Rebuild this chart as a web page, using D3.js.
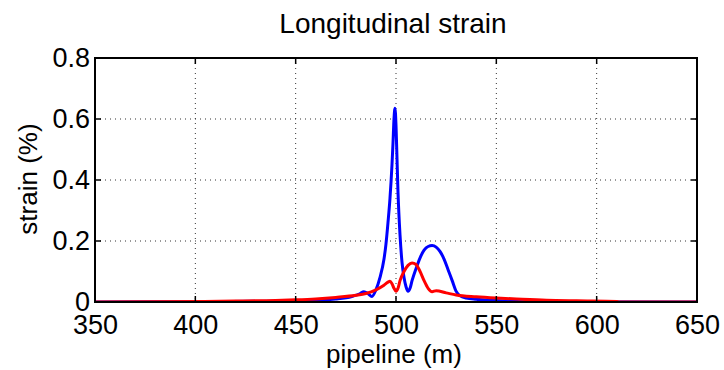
<!DOCTYPE html>
<html><head><meta charset="utf-8">
<script src="https://cdn.jsdelivr.net/npm/d3@7"></script>
<style>body{margin:0;background:#fff;} text{font-family:"Liberation Sans",Arial,sans-serif;}</style>
</head><body>
<svg id="c" width="724" height="370"></svg>
<script>
const title = "Longitudinal strain";
const xLabel = "pipeline (m)";
const yLabel = "strain (%)";
const xTicks = [350, 400, 450, 500, 550, 600, 650];
const yTicks = [0, 0.2, 0.4, 0.6, 0.8];
const yTickLabels = ["0", "0.2", "0.4", "0.6", "0.8"];

const blueX = [350, 400, 450, 470, 478, 482, 484, 486, 488, 490, 492, 494, 495, 496, 497, 498, 498.5, 499, 499.5, 500, 500.5, 501, 502, 503, 504, 505, 506, 507, 508, 510, 512, 514, 516, 518, 520, 522, 524, 526, 528, 530, 532, 535, 540, 550, 560, 570, 650];
const blueY = [0, 0.001, 0.003, 0.01, 0.018, 0.027, 0.034, 0.028, 0.018, 0.04, 0.08, 0.14, 0.19, 0.26, 0.34, 0.45, 0.52, 0.60, 0.635, 0.58, 0.47, 0.36, 0.22, 0.13, 0.08, 0.05, 0.035, 0.045, 0.07, 0.11, 0.145, 0.17, 0.182, 0.185, 0.18, 0.165, 0.14, 0.105, 0.07, 0.035, 0.02, 0.013, 0.009, 0.005, 0.002, 0.001, 0];

const redX = [350, 404, 420, 440, 450, 460, 470, 480, 485, 490, 494, 496, 497, 498, 499, 500, 501, 502, 504, 506, 508, 510, 512, 514, 516, 518, 520, 525, 530, 540, 550, 560, 575, 590, 610, 611, 650];
const redY = [0, 0.002, 0.003, 0.005, 0.007, 0.01, 0.015, 0.022, 0.028, 0.04, 0.055, 0.065, 0.068, 0.06, 0.045, 0.035, 0.045, 0.07, 0.1, 0.12, 0.128, 0.123, 0.1, 0.07, 0.045, 0.034, 0.037, 0.03, 0.023, 0.017, 0.013, 0.01, 0.006, 0.004, 0.002, 0, 0];

const L = 95, T = 58, W = 602, H = 244;
const FS = 27;
const svg = d3.select("#c");
const x = d3.scaleLinear().domain([350, 650]).range([L, L + W]);
const y = d3.scaleLinear().domain([0, 0.8]).range([T + H, T]);

svg.append("defs").append("clipPath").attr("id","clip").append("rect")
  .attr("x", L).attr("y", T - 2).attr("width", W).attr("height", H + 1);

// grid
const g = svg.append("g");
g.selectAll(".vg").data(xTicks.slice(1, -1)).enter().append("line")
  .attr("x1", d => x(d)).attr("x2", d => x(d)).attr("y1", T).attr("y2", T + H)
  .attr("stroke", "#333").attr("stroke-width", 1).attr("stroke-dasharray", "1,4");
g.selectAll(".hg").data(yTicks.slice(1, -1)).enter().append("line")
  .attr("y1", d => y(d)).attr("y2", d => y(d)).attr("x1", L).attr("x2", L + W)
  .attr("stroke", "#333").attr("stroke-width", 1).attr("stroke-dasharray", "1,4");

// lines
const line = d3.line().x(d => x(d[0])).y(d => y(d[1])).curve(d3.curveMonotoneX);
const lines = svg.append("g").attr("clip-path", "url(#clip)");
lines.append("path").datum(blueX.map((v, i) => [v, blueY[i]]))
  .attr("d", line).attr("fill", "none").attr("stroke", "#0000ff").attr("stroke-width", 3).attr("stroke-linejoin","round");
lines.append("path").datum(redX.map((v, i) => [v, redY[i]]))
  .attr("d", line).attr("fill", "none").attr("stroke", "#ff0000").attr("stroke-width", 3).attr("stroke-linejoin","round");

// axes
const tl = 6;
const ax = svg.append("g");
const xb = d3.axisBottom(x).tickValues(xTicks).tickSize(0).tickPadding(13).tickFormat(d3.format("d"));
const axisX = svg.append("g").attr("transform", `translate(0,${T + H})`).call(xb);
axisX.select(".domain").remove();
axisX.selectAll("text").attr("font-size", FS).attr("fill", "#000").attr("font-family", "Liberation Sans, Arial, sans-serif");
const yb = d3.axisLeft(y).tickValues(yTicks).tickSize(0).tickPadding(5).tickFormat((d, i) => yTickLabels[i]);
const axisY = svg.append("g").attr("transform", `translate(${L},0)`).call(yb);
axisY.select(".domain").remove();
axisY.selectAll("text").attr("font-size", FS).attr("fill", "#000").attr("font-family", "Liberation Sans, Arial, sans-serif");

// ticks inside
ax.selectAll(".xtb").data(xTicks).enter().append("line")
  .attr("x1", d => x(d)).attr("x2", d => x(d)).attr("y1", T + H).attr("y2", T + H - tl).attr("stroke", "#000").attr("stroke-width", 1.5);
ax.selectAll(".xtt").data(xTicks).enter().append("line")
  .attr("x1", d => x(d)).attr("x2", d => x(d)).attr("y1", T).attr("y2", T + tl).attr("stroke", "#000").attr("stroke-width", 1.5);
ax.selectAll(".ytl").data(yTicks).enter().append("line")
  .attr("y1", d => y(d)).attr("y2", d => y(d)).attr("x1", L).attr("x2", L + tl).attr("stroke", "#000").attr("stroke-width", 1.5);
ax.selectAll(".ytr").data(yTicks).enter().append("line")
  .attr("y1", d => y(d)).attr("y2", d => y(d)).attr("x1", L + W).attr("x2", L + W - tl).attr("stroke", "#000").attr("stroke-width", 1.5);
ax.append("rect").attr("x", L).attr("y", T).attr("width", W).attr("height", H)
  .attr("fill", "none").attr("stroke", "#000").attr("stroke-width", 2);

// labels
svg.append("text").attr("x", 393).attr("y", 33).attr("text-anchor", "middle")
  .attr("font-size", 28).attr("fill", "#000").text(title);
svg.append("text").attr("x", L + W / 2 - 2).attr("y", 363).attr("text-anchor", "middle")
  .attr("font-size", 26).attr("fill", "#000").text(xLabel);
svg.append("text").attr("transform", `translate(37,${T + H / 2 - 1}) rotate(-90)`).attr("text-anchor", "middle")
  .attr("font-size", 26).attr("fill", "#000").text(yLabel);
</script>
</body></html>
